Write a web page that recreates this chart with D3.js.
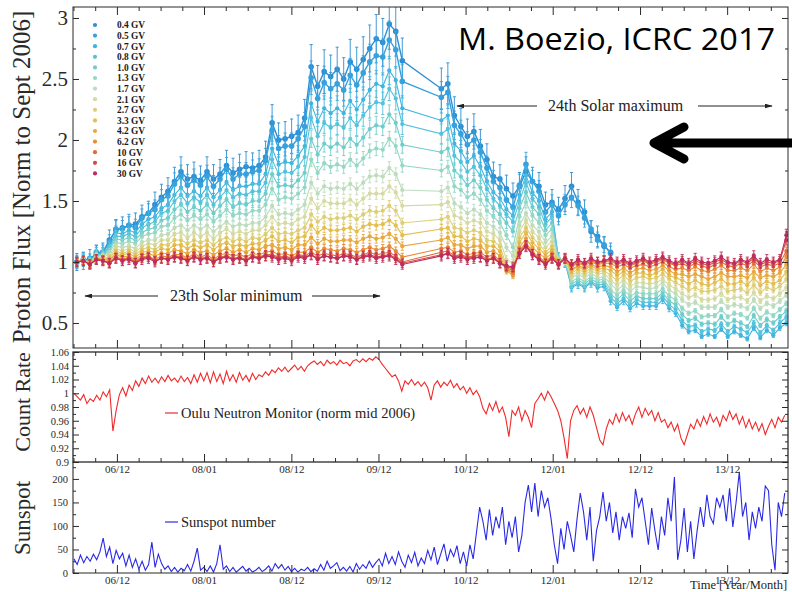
<!DOCTYPE html>
<html>
<head>
<meta charset="utf-8">
<script src="https://cdn.jsdelivr.net/npm/d3@7"></script>
<style>
  html, body { margin: 0; padding: 0; background: #fff; }
  svg { display: block; }
</style>
</head>
<body>
<svg id="chart" width="792" height="592"></svg>
<script>
// ---------------------------------------------------------------------------
// PAMELA proton flux, one value per Carrington rotation (first rotation
// starting 2006-07-05), normalised to September 2006. null = no measurement.
// ---------------------------------------------------------------------------
const firstRotationDate = "2006-07-05";
const rotationDays = 27.2753;

const rigidityLabels = ["0.4 GV","0.5 GV","0.7 GV","0.8 GV","1.0 GV","1.3 GV","1.7 GV","2.1 GV","2.7 GV","3.3 GV","4.2 GV","6.2 GV","10 GV","16 GV","30 GV"];

const flux04 = [1.00,1.01,1.03,1.06,1.08,1.18,1.26,1.28,1.30,1.31,
  1.37,1.40,1.47,1.53,1.58,1.66,1.74,1.68,1.70,1.67,
  1.74,1.68,1.72,1.79,1.73,1.76,1.78,1.77,1.79,1.86,
  2.14,2.00,2.01,2.03,2.06,2.18,2.60,2.44,2.56,2.52,
  2.58,2.50,2.64,2.58,2.66,2.75,2.83,2.80,2.95,2.89,
  2.65,null,null,null,null,null,2.42,2.46,2.20,2.11,
  2.03,2.07,1.95,1.84,1.70,1.68,1.60,1.54,1.62,1.74,
  1.66,1.62,1.47,1.49,1.43,1.52,1.62,1.49,1.41,1.25,
  1.21,1.13,1.08];
const flux05 = [1.00,1.02,1.01,1.08,1.08,1.16,1.27,1.27,1.30,1.28,
  1.36,1.40,1.43,1.51,1.54,1.64,1.70,1.63,1.67,1.63,
  1.70,1.62,1.68,1.76,1.68,1.72,1.72,1.74,1.75,1.83,
  2.08,1.93,1.95,1.95,2.01,2.11,2.51,2.34,2.47,2.42,
  2.46,2.41,2.53,2.45,2.55,2.64,2.69,2.68,2.82,2.74,
  2.48,null,null,null,null,null,2.35,2.39,2.12,2.05,
  1.96,2.00,1.90,1.77,1.66,1.61,1.51,1.45,1.63,1.80,
  1.66,1.58,1.41,1.47,1.38,1.47,1.53,1.46,1.36,1.27,
  1.18,1.14,1.07];
const flux07 = [1.00,1.02,1.00,1.07,1.07,1.13,1.24,1.23,1.26,1.24,
  1.31,1.35,1.37,1.44,1.47,1.55,1.61,1.54,1.58,1.54,
  1.61,1.53,1.59,1.65,1.59,1.62,1.62,1.64,1.64,1.72,
  1.93,1.80,1.82,1.81,1.87,1.95,2.30,2.15,2.26,2.22,
  2.26,2.22,2.32,2.25,2.33,2.41,2.46,2.44,2.57,2.49,
  2.26,null,null,null,null,null,2.16,2.20,1.97,1.91,
  1.82,1.87,1.78,1.66,1.57,1.52,1.43,1.38,1.55,1.71,
  1.57,1.50,1.35,1.41,1.03,1.00,0.79,0.82,0.79,0.83,
  0.79,0.80,0.68,0.63,0.68,0.62,0.66,0.64,0.64,0.64,
  0.69,0.62,0.58,0.48,0.43,0.44,0.39,0.41,0.39,0.45,
  0.39,0.43,0.40,0.37,0.46,0.38,0.44,0.40,0.46,0.50];
const flux08 = [1.00,1.02,1.00,1.06,1.07,1.12,1.21,1.21,1.23,1.21,
  1.28,1.31,1.33,1.40,1.42,1.50,1.55,1.48,1.53,1.49,
  1.55,1.47,1.53,1.59,1.53,1.56,1.55,1.58,1.58,1.65,
  1.84,1.72,1.74,1.73,1.78,1.86,2.18,2.03,2.14,2.10,
  2.13,2.10,2.18,2.12,2.20,2.27,2.31,2.30,2.42,2.34,
  2.13,null,null,null,null,null,2.05,2.09,1.87,1.82,
  1.74,1.78,1.71,1.60,1.52,1.46,1.39,1.33,1.50,1.65,
  1.52,1.45,1.31,1.37,1.03,1.00,0.80,0.83,0.80,0.84,
  0.81,0.82,0.71,0.66,0.70,0.65,0.69,0.67,0.67,0.67,
  0.72,0.65,0.61,0.52,0.47,0.48,0.43,0.45,0.44,0.49,
  0.43,0.47,0.45,0.42,0.50,0.42,0.48,0.44,0.50,0.55];
const flux10 = [1.00,1.02,1.00,1.06,1.06,1.10,1.19,1.18,1.20,1.18,
  1.24,1.27,1.28,1.34,1.36,1.43,1.47,1.41,1.45,1.42,
  1.47,1.40,1.46,1.51,1.45,1.48,1.47,1.50,1.50,1.56,
  1.72,1.62,1.63,1.62,1.67,1.73,2.01,1.88,1.97,1.94,
  1.97,1.94,2.01,1.96,2.02,2.09,2.12,2.11,2.21,2.14,
  1.96,null,null,null,null,null,1.90,1.93,1.75,1.70,
  1.63,1.67,1.61,1.51,1.44,1.39,1.32,1.25,1.44,1.57,
  1.45,1.39,1.26,1.32,1.02,1.00,0.82,0.85,0.82,0.86,
  0.83,0.84,0.74,0.69,0.74,0.68,0.72,0.70,0.70,0.70,
  0.75,0.68,0.65,0.57,0.52,0.54,0.49,0.50,0.49,0.55,
  0.49,0.52,0.50,0.47,0.56,0.48,0.53,0.50,0.55,0.60];
const flux13 = [1.00,1.02,1.00,1.05,1.05,1.08,1.16,1.15,1.17,1.15,
  1.21,1.23,1.24,1.29,1.30,1.36,1.39,1.34,1.38,1.35,
  1.39,1.33,1.38,1.43,1.38,1.40,1.39,1.42,1.42,1.47,
  1.60,1.51,1.53,1.52,1.56,1.61,1.84,1.73,1.81,1.78,
  1.80,1.78,1.84,1.79,1.85,1.91,1.93,1.92,2.01,1.95,
  1.79,null,null,null,null,null,1.75,1.78,1.62,1.59,
  1.53,1.56,1.51,1.42,1.37,1.32,1.22,1.12,1.37,1.49,
  1.38,1.32,1.22,1.27,1.02,1.01,0.84,0.87,0.84,0.88,
  0.85,0.86,0.77,0.73,0.77,0.72,0.75,0.74,0.74,0.74,
  0.78,0.72,0.69,0.62,0.58,0.60,0.55,0.56,0.56,0.61,
  0.55,0.58,0.57,0.54,0.62,0.54,0.59,0.56,0.61,0.66];
const flux17 = [1.00,1.01,0.99,1.04,1.04,1.06,1.13,1.12,1.13,1.11,
  1.16,1.18,1.18,1.22,1.23,1.28,1.30,1.26,1.30,1.27,
  1.30,1.25,1.29,1.33,1.29,1.31,1.30,1.32,1.32,1.37,
  1.46,1.39,1.40,1.39,1.43,1.47,1.65,1.56,1.62,1.60,
  1.61,1.60,1.64,1.60,1.65,1.70,1.71,1.70,1.77,1.72,
  1.59,null,null,null,null,null,1.58,1.61,1.48,1.45,
  1.40,1.43,1.39,1.32,1.29,1.24,1.12,1.05,1.30,1.40,
  1.30,1.25,1.16,1.21,1.01,1.01,0.87,0.90,0.87,0.91,
  0.87,0.88,0.82,0.77,0.81,0.76,0.80,0.79,0.78,0.79,
  0.83,0.77,0.74,0.69,0.65,0.67,0.63,0.63,0.63,0.68,
  0.63,0.65,0.64,0.62,0.69,0.62,0.66,0.64,0.68,0.73];
const flux21 = [1.00,1.01,0.99,1.04,1.03,1.04,1.11,1.09,1.11,1.08,
  1.13,1.15,1.14,1.18,1.18,1.23,1.24,1.20,1.24,1.21,
  1.24,1.19,1.24,1.27,1.23,1.25,1.23,1.26,1.26,1.30,
  1.37,1.31,1.32,1.31,1.35,1.37,1.52,1.44,1.50,1.48,
  1.48,1.48,1.51,1.47,1.52,1.56,1.56,1.56,1.62,1.57,
  1.46,null,null,null,null,null,1.47,1.49,1.38,1.36,
  1.32,1.34,1.32,1.25,1.23,1.18,1.02,0.99,1.25,1.34,
  1.25,1.20,1.12,1.17,1.00,1.01,0.89,0.92,0.89,0.93,
  0.90,0.91,0.85,0.81,0.85,0.80,0.83,0.83,0.82,0.83,
  0.86,0.81,0.78,0.74,0.71,0.73,0.69,0.69,0.70,0.74,
  0.69,0.71,0.71,0.68,0.75,0.68,0.72,0.70,0.74,0.79];
const flux27 = [1.00,1.01,0.99,1.03,1.03,1.03,1.09,1.07,1.09,1.06,
  1.10,1.12,1.10,1.14,1.14,1.18,1.18,1.15,1.18,1.16,
  1.18,1.14,1.18,1.20,1.17,1.19,1.17,1.20,1.19,1.23,
  1.28,1.23,1.24,1.23,1.26,1.28,1.39,1.33,1.37,1.35,
  1.36,1.36,1.38,1.35,1.39,1.42,1.41,1.42,1.46,1.42,
  1.32,null,null,null,null,null,1.35,1.37,1.28,1.27,
  1.24,1.26,1.24,1.18,1.17,1.13,0.97,0.93,1.20,1.28,
  1.20,1.15,1.08,1.13,1.00,1.02,0.91,0.94,0.91,0.95,
  0.92,0.93,0.89,0.85,0.89,0.84,0.87,0.88,0.86,0.87,
  0.90,0.86,0.83,0.80,0.77,0.79,0.76,0.76,0.77,0.80,
  0.76,0.77,0.78,0.75,0.81,0.75,0.79,0.77,0.80,0.86];
const flux33 = [1.00,1.01,0.99,1.03,1.02,1.02,1.07,1.06,1.07,1.04,
  1.08,1.09,1.08,1.11,1.10,1.14,1.14,1.11,1.14,1.12,
  1.14,1.10,1.14,1.16,1.13,1.14,1.13,1.15,1.15,1.18,
  1.21,1.17,1.18,1.16,1.20,1.21,1.30,1.24,1.28,1.26,
  1.26,1.27,1.28,1.25,1.29,1.31,1.30,1.31,1.34,1.30,
  1.22,null,null,null,null,null,1.27,1.28,1.21,1.21,
  1.17,1.19,1.18,1.13,1.13,1.09,0.95,0.90,1.16,1.24,
  1.16,1.11,1.06,1.10,1.00,1.02,0.93,0.96,0.93,0.97,
  0.94,0.95,0.93,0.89,0.92,0.88,0.91,0.91,0.89,0.91,
  0.94,0.89,0.87,0.85,0.82,0.85,0.82,0.81,0.83,0.86,
  0.82,0.82,0.84,0.81,0.87,0.81,0.84,0.82,0.85,0.92];
const flux42 = [1.00,1.01,0.98,1.03,1.02,1.01,1.06,1.04,1.05,1.02,
  1.06,1.07,1.05,1.07,1.07,1.10,1.09,1.07,1.10,1.08,
  1.09,1.06,1.09,1.11,1.08,1.10,1.08,1.11,1.10,1.13,
  1.14,1.11,1.12,1.10,1.14,1.14,1.20,1.15,1.19,1.17,
  1.17,1.18,1.18,1.16,1.19,1.21,1.19,1.20,1.23,1.19,
  1.13,null,null,null,null,null,1.18,1.20,1.14,1.14,
  1.11,1.13,1.13,1.08,1.09,1.05,0.93,0.89,1.12,1.19,
  1.12,1.07,1.03,1.07,0.99,1.02,0.94,0.97,0.95,0.98,
  0.96,0.97,0.96,0.92,0.95,0.91,0.94,0.95,0.93,0.94,
  0.97,0.93,0.90,0.90,0.88,0.90,0.88,0.86,0.88,0.91,
  0.88,0.88,0.89,0.87,0.92,0.87,0.89,0.88,0.91,0.98];
const flux62 = [1.00,1.01,0.98,1.02,1.01,1.00,1.04,1.02,1.04,1.01,
  1.04,1.05,1.02,1.05,1.04,1.06,1.06,1.03,1.07,1.04,
  1.06,1.02,1.06,1.07,1.05,1.06,1.04,1.07,1.06,1.08,
  1.09,1.06,1.07,1.05,1.08,1.08,1.12,1.08,1.11,1.10,
  1.09,1.11,1.10,1.08,1.10,1.12,1.10,1.11,1.13,1.09,
  1.04,null,null,null,null,null,1.11,1.12,1.08,1.09,
  1.06,1.07,1.08,1.04,1.06,1.01,0.94,0.91,1.09,1.16,
  1.08,1.04,1.00,1.05,0.99,1.03,0.96,0.99,0.97,1.00,
  0.98,0.99,0.99,0.96,0.98,0.95,0.97,0.98,0.96,0.98,
  1.00,0.96,0.94,0.95,0.93,0.96,0.93,0.92,0.94,0.97,
  0.93,0.93,0.95,0.93,0.98,0.92,0.95,0.93,0.96,1.04];
const flux100 = [1.00,1.01,0.98,1.02,1.01,0.99,1.04,1.02,1.03,1.00,
  1.03,1.04,1.01,1.03,1.03,1.05,1.04,1.02,1.05,1.03,
  1.04,1.01,1.04,1.05,1.03,1.04,1.02,1.05,1.04,1.06,
  1.06,1.04,1.05,1.03,1.06,1.05,1.08,1.05,1.07,1.06,
  1.05,1.07,1.06,1.04,1.06,1.08,1.06,1.07,1.08,1.05,
  1.00,null,null,null,null,null,1.08,1.09,1.05,1.06,
  1.04,1.05,1.06,1.02,1.04,1.00,0.95,0.93,1.08,1.14,
  1.07,1.03,0.99,1.03,0.98,1.03,0.97,1.00,0.98,1.01,
  0.99,1.00,1.01,0.98,1.00,0.97,0.99,1.01,0.98,1.00,
  1.02,0.99,0.97,0.99,0.96,0.99,0.97,0.95,0.98,1.00,
  0.97,0.96,0.99,0.97,1.01,0.96,0.98,0.97,0.99,1.09];
const flux160 = [1.00,1.01,0.98,1.02,1.01,0.99,1.03,1.01,1.03,0.99,
  1.03,1.04,1.01,1.03,1.02,1.04,1.03,1.01,1.04,1.02,
  1.03,1.00,1.03,1.04,1.02,1.03,1.01,1.04,1.03,1.05,
  1.05,1.03,1.04,1.02,1.05,1.04,1.06,1.03,1.05,1.04,
  1.03,1.05,1.05,1.02,1.05,1.06,1.04,1.05,1.06,1.03,
  0.99,null,null,null,null,null,1.06,1.07,1.04,1.05,
  1.03,1.04,1.04,1.01,1.03,0.99,0.96,0.95,1.07,1.13,
  1.06,1.02,0.99,1.03,0.98,1.03,0.98,1.01,0.99,1.02,
  1.00,1.01,1.02,0.99,1.01,0.98,1.00,1.02,0.99,1.01,
  1.03,1.00,0.98,1.01,0.98,1.01,0.99,0.97,1.00,1.02,
  0.99,0.98,1.01,0.99,1.03,0.98,1.00,0.99,1.01,1.18];
const flux300 = [1.00,1.01,0.98,1.02,1.01,0.99,1.03,1.01,1.02,0.99,
  1.02,1.03,1.00,1.03,1.02,1.04,1.03,1.01,1.04,1.02,
  1.03,1.00,1.03,1.04,1.02,1.03,1.01,1.04,1.03,1.05,
  1.04,1.02,1.03,1.01,1.04,1.03,1.06,1.02,1.05,1.04,
  1.03,1.05,1.04,1.02,1.04,1.05,1.03,1.04,1.05,1.02,
  0.98,null,null,null,null,null,1.05,1.07,1.03,1.04,
  1.02,1.03,1.04,1.01,1.03,0.99,0.97,0.96,1.07,1.13,
  1.06,1.02,0.98,1.03,0.98,1.03,0.98,1.02,0.99,1.03,
  1.00,1.01,1.03,1.00,1.02,0.99,1.01,1.03,1.00,1.02,
  1.04,1.01,0.99,1.02,0.99,1.03,1.00,0.99,1.01,1.04,
  1.00,0.99,1.02,1.00,1.05,0.99,1.02,1.00,1.02,1.22];

// relative uncertainty of each rigidity bin
const relativeError = [0.07,0.055,0.045,0.04,0.035,0.03,0.03,0.03,0.03,0.03,0.03,0.03,0.03,0.035,0.04];

// Oulu neutron monitor count rate and daily sunspot number, sampled every 13.6 days
const sampleStartDate = "2006-06-23";
const sampleDays = 13.6;
const ouluRate = [1.000,0.995,0.990,0.998,0.985,0.992,0.988,0.997,0.990,1.002,0.995,1.005,
  0.945,0.975,0.998,1.008,0.996,1.012,1.004,
  1.018,1.010,1.022,1.014,1.025,1.016,1.022,
  1.015,1.024,1.017,1.026,1.018,1.022,1.016,1.025,1.017,1.023,1.014,1.027,1.016,1.029,1.018,
  1.030,1.015,1.031,1.017,1.028,1.014,1.032,1.018,1.027,1.016,1.030,1.019,1.026,1.017,1.029,1.020,1.027,
  1.024,1.031,1.026,1.034,1.030,1.037,1.032,
  1.038,1.031,1.036,1.041,1.034,1.039,1.032,1.040,
  1.044,1.047,1.042,1.046,1.040,1.048,1.043,
  1.046,1.041,1.048,1.043,1.045,1.040,1.047,1.049,1.045,
  1.050,1.046,1.051,1.048,1.053,
  1.049,1.042,1.036,1.030,1.024,1.027,1.018,1.003,
  1.018,1.013,1.020,1.012,1.017,1.010,1.016,1.008,0.990,
  1.012,1.018,1.009,1.016,1.011,1.019,1.008,1.014,1.005,
  1.010,1.000,1.008,0.998,1.004,0.995,
  0.978,0.970,0.985,0.975,0.988,0.972,0.980,0.965,0.937,
  0.975,0.968,0.980,0.960,0.975,0.965,0.950,
  0.985,0.992,1.000,0.990,1.003,0.995,0.985,0.975,0.960,0.935,0.905,
  0.960,0.975,0.982,0.970,0.978,0.965,0.980,0.968,
  0.950,0.932,0.925,
  0.948,0.962,0.955,0.970,0.958,0.972,0.960,0.968,0.955,
  0.970,0.980,0.965,0.978,0.968,0.975,0.960,0.972,0.958,
  0.962,0.950,0.958,0.945,0.955,0.935,0.925,0.940,
  0.955,0.948,0.962,0.952,0.966,0.955,0.970,0.958,0.965,0.952,
  0.968,0.960,0.974,0.962,0.970,0.955,0.966,0.950,0.962,0.948,0.958,
  0.945,0.956,0.940,0.952,0.962,0.950,0.965,0.958,0.968];
const sunspotNumber = [30,18,38,22,35,25,40,28,45,74,35,55,
  20,48,30,42,15,38,12,30,8,25,
  6,18,66,12,40,20,8,15,3,12,2,10,5,
  18,4,25,53,6,12,3,15,2,20,60,8,15,
  3,12,2,8,14,4,10,2,6,12,3,8,15,4,20,10,18,6,
  14,3,10,2,8,5,12,3,9,4,18,6,25,10,15,22,5,12,
  4,14,2,20,8,18,10,25,12,22,30,15,42,20,
  35,18,45,25,12,38,22,44,15,32,20,48,28,55,18,40,
  62,25,50,35,58,20,45,15,60,30,
  85,140,110,70,135,80,120,95,140,60,
  110,75,120,45,80,150,187,130,191,
  120,175,140,160,115,60,20,95,50,110,
  80,45,115,170,130,70,140,25,90,120,172,110,
  150,85,130,70,120,95,128,75,179,140,160,
  110,60,138,90,49,120,80,160,110,204,28,
  70,138,45,110,30,90,140,98,166,120,105,
  160,140,166,110,180,98,150,215,
  120,150,70,130,95,140,110,185,175,60,6,150,120,170];

// axis ticks
const fluxTicks = [0.5,1,1.5,2,2.5,3];
const fluxTickLabels = ["0.5","1","1.5","2","2.5","3"];
const rateTicks = [0.9,0.92,0.94,0.96,0.98,1,1.02,1.04,1.06];
const rateTickLabels = ["0.9","0.92","0.94","0.96","0.98","1","1.02","1.04","1.06"];
const sunTicks = [0,50,100,150,200];
const sunTickLabels = ["0","50","100","150","200"];
const timeTickDates = ["2006-12-20","2007-12-20","2008-12-20","2009-12-20","2010-12-20","2011-12-20","2012-12-20","2013-12-20"];
const timeTickLabels = ["06/12","08/01","08/12","09/12","10/12","12/01","12/12","13/12"];

// ---------------------------------------------------------------------------
const fluxSeries = [flux04,flux05,flux07,flux08,flux10,flux13,flux17,flux21,flux27,flux33,flux42,flux62,flux100,flux160,flux300];
const rigidityColors = ["#2e8fd4","#36a1dc","#3fb4df","#53c2dc","#6ecdcb","#93d7c4","#bddcbd","#d4dba2","#ddcf78","#e3bf50","#e8a83c","#ea8c33","#e26b3b","#d2494b","#bd2c5e"];

const serif = "'Liberation Serif','Times New Roman',serif";
const ink = "#2a2a2a";
const plotLeft = 73, plotRight = 788;
const topPanel = { y0: 7, y1: 348 };
const midPanel = { y0: 352, y1: 462 };
const botPanel = { y0: 462, y1: 573 };

const parseDate = d3.utcParse("%Y-%m-%d");
const x = d3.scaleUtc()
  .domain([parseDate("2006-06-19"), parseDate("2014-09-01")])
  .range([plotLeft, plotRight]);
const yFlux = d3.scaleLinear().domain([0.295, 3.09]).range([topPanel.y1, topPanel.y0]);
const yRate = d3.scaleLinear().domain([0.9, 1.06]).range([midPanel.y1, midPanel.y0]);
const ySun = d3.scaleLinear().domain([0, 236]).range([botPanel.y1, botPanel.y0]);

const rotationStart = parseDate(firstRotationDate);
const rotationDate = i => new Date(rotationStart.getTime() + i * rotationDays * 864e5);
const sampleStart = parseDate(sampleStartDate);
const sampleDate = j => new Date(sampleStart.getTime() + j * sampleDays * 864e5);

const svg = d3.select("#chart");
svg.append("rect").attr("width", 792).attr("height", 592).attr("fill", "#fff");
const defs = svg.append("defs");
defs.append("clipPath").attr("id", "clipTop").append("rect")
  .attr("x", plotLeft).attr("y", topPanel.y0)
  .attr("width", plotRight - plotLeft).attr("height", topPanel.y1 - topPanel.y0);
defs.append("marker").attr("id", "head").attr("viewBox", "0 0 10 6")
  .attr("refX", 9).attr("refY", 3).attr("markerWidth", 8).attr("markerHeight", 5)
  .attr("markerUnits", "userSpaceOnUse").attr("orient", "auto")
  .append("path").attr("d", "M0,0 L10,3 L0,6 Z").attr("fill", "#222");

// ---------------- proton flux panel ----------------
const fluxLayer = svg.append("g").attr("clip-path", "url(#clipTop)");
fluxSeries.forEach((vals, k) => {
  const pts = vals.map((v, i) => ({ t: rotationDate(i), v })).filter(p => p.v !== null);
  const col = rigidityColors[k];
  const g = fluxLayer.append("g");
  g.append("path")
    .attr("d", d3.line().x(p => x(p.t)).y(p => yFlux(p.v))(pts))
    .attr("fill", "none").attr("stroke", col).attr("stroke-width", k < 2 ? 1.4 : 1.1);
  const bars = d3.path();
  pts.forEach(p => {
    const e = relativeError[k] * p.v;
    const px = x(p.t), lo = yFlux(p.v - e), hi = yFlux(p.v + e);
    bars.moveTo(px, lo); bars.lineTo(px, hi);
    bars.moveTo(px - 1.6, hi); bars.lineTo(px + 1.6, hi);
    bars.moveTo(px - 1.6, lo); bars.lineTo(px + 1.6, lo);
  });
  g.append("path").attr("d", bars.toString()).attr("fill", "none")
    .attr("stroke", col).attr("stroke-width", 0.9);
  g.selectAll("circle").data(pts).join("circle")
    .attr("cx", p => x(p.t)).attr("cy", p => yFlux(p.v))
    .attr("r", k < 2 ? 2.8 : 2.1).attr("fill", col);
});

// legend of rigidities
const legend = svg.append("g");
rigidityLabels.forEach((lab, k) => {
  const cy = 25 + k * 10.6;
  legend.append("circle").attr("cx", 95).attr("cy", cy).attr("r", 2.1).attr("fill", rigidityColors[k]);
  legend.append("text").attr("x", 117).attr("y", cy + 3.3)
    .attr("font-family", serif).attr("font-size", 9.4).attr("font-weight", "bold")
    .attr("fill", "#1a1a1a").text(lab);
});

// ---------------- neutron monitor panel ----------------
svg.append("path")
  .attr("d", d3.line().x((v, j) => x(sampleDate(j))).y(v => yRate(v))(ouluRate))
  .attr("fill", "none").attr("stroke", "#f02a2a").attr("stroke-width", 1.1);

// ---------------- sunspot panel ----------------
svg.append("path")
  .attr("d", d3.line().x((v, j) => x(sampleDate(j))).y(v => ySun(v))(sunspotNumber))
  .attr("fill", "none").attr("stroke", "#2a2ae6").attr("stroke-width", 1.1);

// ---------------- axes and frames ----------------
function tidy(g, size) {
  g.select(".domain").remove();
  g.attr("font-family", serif).attr("font-size", size);
  g.selectAll(".tick line").attr("stroke", ink).attr("stroke-width", 1);
  g.selectAll(".tick text").attr("fill", ink);
  return g;
}
const majorDates = timeTickDates.map(parseDate);
const minorDates = [];
[d3.utcDay.offset(majorDates[0], -365)].concat(majorDates).forEach(m => {
  [91, 183, 274].forEach(o => {
    const d = d3.utcDay.offset(m, o);
    if (d > x.domain()[0] && d < x.domain()[1]) minorDates.push(d);
  });
});
function timeAxis(yPos, top, labelled) {
  const mk = () => top ? d3.axisTop(x) : d3.axisBottom(x);
  tidy(svg.append("g").attr("transform", `translate(0,${yPos})`)
    .call(mk().tickValues(majorDates).tickSize(-8).tickSizeOuter(0).tickPadding(3)
      .tickFormat((d, i) => labelled ? timeTickLabels[i] : "")), 11);
  tidy(svg.append("g").attr("transform", `translate(0,${yPos})`)
    .call(mk().tickValues(minorDates).tickSize(-4).tickSizeOuter(0).tickFormat("")), 11);
}
function valueAxis(scale, ticks, labels, minors, size, pad) {
  tidy(svg.append("g").attr("transform", `translate(${plotLeft},0)`)
    .call(d3.axisLeft(scale).tickValues(ticks).tickSize(-6).tickSizeOuter(0).tickPadding(pad)
      .tickFormat((d, i) => labels[i])), size);
  tidy(svg.append("g").attr("transform", `translate(${plotLeft},0)`)
    .call(d3.axisLeft(scale).tickValues(minors).tickSize(-3).tickSizeOuter(0).tickFormat("")), size);
  tidy(svg.append("g").attr("transform", `translate(${plotRight},0)`)
    .call(d3.axisRight(scale).tickValues(ticks).tickSize(-6).tickSizeOuter(0).tickFormat("")), size);
  tidy(svg.append("g").attr("transform", `translate(${plotRight},0)`)
    .call(d3.axisRight(scale).tickValues(minors).tickSize(-3).tickSizeOuter(0).tickFormat("")), size);
}

valueAxis(yFlux, fluxTicks, fluxTickLabels, [0.75,1.25,1.75,2.25,2.75], 21, 5);
valueAxis(yRate, rateTicks, rateTickLabels, [0.91,0.93,0.95,0.97,0.99,1.01,1.03,1.05], 10.5, 4);
valueAxis(ySun, sunTicks, sunTickLabels, [25,75,125,175,225], 10.5, 5);

timeAxis(topPanel.y0, true, false);
timeAxis(topPanel.y1, false, false);
timeAxis(midPanel.y0, true, false);
timeAxis(midPanel.y1, false, true);
timeAxis(botPanel.y1, false, true);

const frame = svg.append("g").attr("fill", "none").attr("stroke", ink);
frame.append("rect").attr("x", plotLeft).attr("y", topPanel.y0)
  .attr("width", plotRight - plotLeft).attr("height", topPanel.y1 - topPanel.y0).attr("stroke-width", 1);
frame.append("rect").attr("x", plotLeft).attr("y", midPanel.y0)
  .attr("width", plotRight - plotLeft).attr("height", midPanel.y1 - midPanel.y0).attr("stroke-width", 1.3);
frame.append("path")
  .attr("d", `M${plotLeft},${botPanel.y0}V${botPanel.y1}H${plotRight}V${botPanel.y0}`).attr("stroke-width", 1.1);

// ---------------- titles and annotations ----------------
function vTitle(txt, cx, cy, size) {
  svg.append("text").attr("transform", `translate(${cx},${cy}) rotate(-90)`)
    .attr("text-anchor", "middle").attr("font-family", serif).attr("font-size", size)
    .attr("fill", ink).text(txt);
}
vTitle("Proton Flux [Norm to Sept 2006]", 30, 177, 25);
vTitle("Count Rate", 30, 402, 22);
vTitle("Sunspot", 30, 518, 23);

function label(txt, xPos, yPos, size) {
  svg.append("text").attr("x", xPos).attr("y", yPos).attr("font-family", serif)
    .attr("font-size", size).attr("fill", "#222").text(txt);
}
function arrow(x1, x2, yPos) {
  svg.append("line").attr("x1", x1).attr("x2", x2).attr("y1", yPos).attr("y2", yPos)
    .attr("stroke", "#222").attr("stroke-width", 1.2).attr("marker-end", "url(#head)");
}
arrow(158, 85, 296);
label("23th Solar minimum", 170, 301, 16);
arrow(312, 380, 296);
arrow(537, 457, 106);
label("24th Solar maximum", 548, 111, 16);
arrow(698, 772, 106);

svg.append("line").attr("x1", 165).attr("x2", 178).attr("y1", 413).attr("y2", 413)
  .attr("stroke", "#f02a2a").attr("stroke-width", 1.2);
label("Oulu Neutron Monitor (norm mid 2006)", 181, 418, 14.5);
svg.append("line").attr("x1", 165).attr("x2", 178).attr("y1", 522).attr("y2", 522)
  .attr("stroke", "#2a2ae6").attr("stroke-width", 1.2);
label("Sunspot number", 181, 527, 14.5);
label("Time [Year/Month]", 690, 589, 12.5);

svg.append("text").attr("x", 458).attr("y", 50)
  .attr("font-family", "'Open Sans','Noto Sans',sans-serif").attr("font-size", 31)
  .attr("textLength", 317).attr("lengthAdjust", "spacingAndGlyphs")
  .attr("fill", "#000").text("M. Boezio, ICRC 2017");

// thick pointer arrow
svg.append("path").attr("d", "M800,143 H656 M684,127 L654,143 L684,159")
  .attr("fill", "none").attr("stroke", "#000").attr("stroke-width", 9)
  .attr("stroke-linecap", "round").attr("stroke-linejoin", "round");
</script>
</body>
</html>
